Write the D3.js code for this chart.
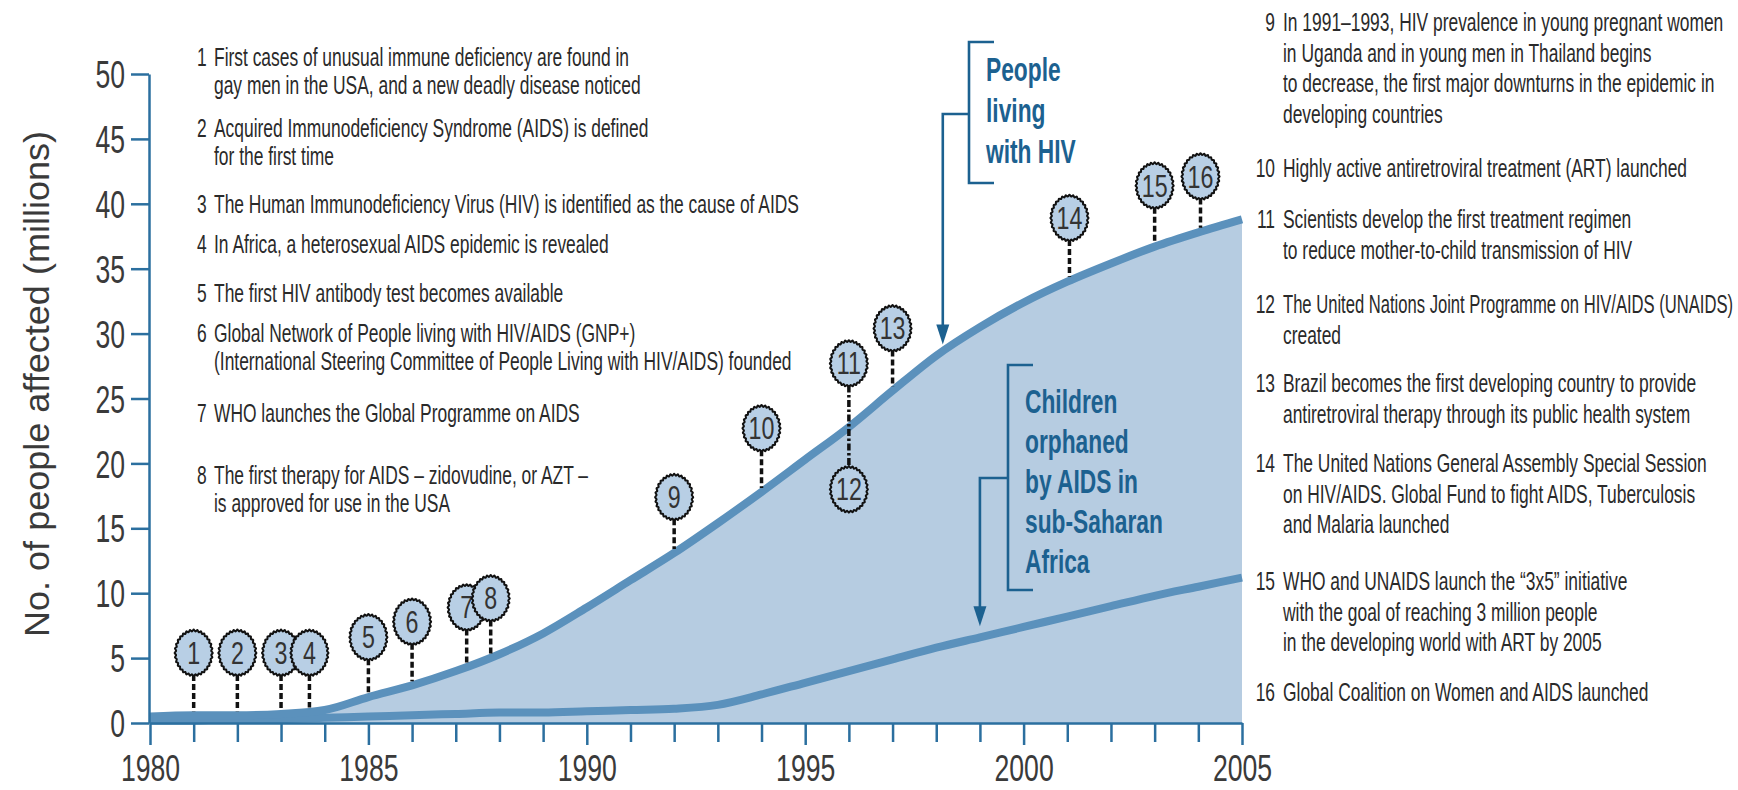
<!DOCTYPE html>
<html lang="en">
<head>
<meta charset="UTF-8">
<title>HIV epidemic timeline</title>
<script src="https://cdn.jsdelivr.net/npm/d3@7"></script>
<style>
    body { margin: 0; background: #ffffff; }
    svg { display: block; font-family: "Liberation Sans", Arial, sans-serif; }
    .axis path, .axis line { stroke: #2b6f9f; stroke-width: 2.5px; }
    .axis text { fill: #3a3a3a; font-family: "Liberation Sans", Arial, sans-serif; }
</style>
</head>
<body>
<div id="chart"></div>
<script>
    var WIDTH = 1738;
    var HEIGHT = 790;

    // data (millions)
    var YEARS = [1980, 1981, 1982, 1983, 1984, 1985, 1986, 1987, 1988, 1989, 1990, 1991, 1992,
                 1993, 1994, 1995, 1996, 1997, 1998, 1999, 2000, 2001, 2002, 2003, 2004, 2005];
    var LIVING_WITH_HIV = [0.5, 0.6, 0.6, 0.7, 1.0, 2.0, 2.9, 4.0, 5.3, 6.9, 8.9, 11.0, 13.1,
                           15.4, 17.8, 20.3, 22.8, 25.6, 28.3, 30.5, 32.4, 34.0, 35.4, 36.7, 37.8, 38.8];
    var ORPHANS_SSA = [0.2, 0.2, 0.3, 0.3, 0.4, 0.5, 0.6, 0.7, 0.8, 0.8, 0.9, 1.0, 1.1,
                       1.4, 2.2, 3.1, 4.0, 4.9, 5.8, 6.6, 7.4, 8.2, 9.0, 9.8, 10.5, 11.2];

    var Y_TICKS = [0, 5, 10, 15, 20, 25, 30, 35, 40, 45, 50];
    var X_LABELS = [1980, 1985, 1990, 1995, 2000, 2005];
    var Y_TITLE = "No. of people affected (millions)";

    // numbered milestones: id, year, badge height (millions)
    var EVENT_IDS = [1, 2, 3, 4, 5, 6, 7, 8, 9, 10, 11, 12, 13, 14, 15, 16];
    var EVENT_YEARS = [1981, 1982, 1983, 1983.65, 1985, 1986, 1987.25, 1987.8, 1992, 1994,
                       1996, 1996, 1997, 2001.05, 2003, 2004.05];
    var EVENT_LEVELS = [5.4, 5.4, 5.4, 5.4, 6.6, 7.8, 8.9, 9.6, 17.4, 22.7, 27.7, 18.0, 30.4,
                        38.9, 41.4, 42.1];

    var LEFT_NOTES = [
        ["First cases of unusual immune deficiency are found in", "gay men in the USA, and a new deadly disease noticed"],
        ["Acquired Immunodeficiency Syndrome (AIDS) is defined", "for the first time"],
        ["The Human Immunodeficiency Virus (HIV) is identified as the cause of AIDS"],
        ["In Africa, a heterosexual AIDS epidemic is revealed"],
        ["The first HIV antibody test becomes available"],
        ["Global Network of People living with HIV/AIDS (GNP+)", "(International Steering Committee of People Living with HIV/AIDS) founded"],
        ["WHO launches the Global Programme on AIDS"],
        ["The first therapy for AIDS \u2013 zidovudine, or AZT \u2013", "is approved for use in the USA"]
    ];
    var RIGHT_NOTES = [
        ["In 1991\u20131993, HIV prevalence in young pregnant women", "in Uganda and in young men in Thailand begins",
         "to decrease, the first major downturns in the epidemic in", "developing countries"],
        ["Highly active antiretroviral treatment (ART) launched"],
        ["Scientists develop the first treatment regimen", "to reduce mother-to-child transmission of HIV"],
        ["The United Nations Joint Programme on HIV/AIDS (UNAIDS)", "created"],
        ["Brazil becomes the first developing country to provide", "antiretroviral therapy through its public health system"],
        ["The United Nations General Assembly Special Session", "on HIV/AIDS. Global Fund to fight AIDS, Tuberculosis",
         "and Malaria launched"],
        ["WHO and UNAIDS launch the \u201c3x5\u201d initiative", "with the goal of reaching 3 million people",
         "in the developing world with ART by 2005"],
        ["Global Coalition on Women and AIDS launched"]
    ];
    var HIV_LABEL = ["People", "living", "with HIV"];
    var ORPHAN_LABEL = ["Children", "orphaned", "by AIDS in", "sub-Saharan", "Africa"];

    // styling / layout
    var AXIS_BLUE = "#2b6f9f";
    var NOTE_BLUE = "#1c6190";
    var FILL_BLUE = "#b6cce1";
    var LINE_BLUE = "#5b91bc";
    var BADGE_FILL = "#b8cfe5";
    var TEXT_COLOR = "#2a2a2a";
    var NOTE_SIZE = 26, NOTE_SX = 0.67;
    var LEFT_TOPS = [66, 137, 213, 253, 302, 342, 422, 484], LEFT_GAP = 28;
    var RIGHT_TOPS = [31, 177, 228, 313, 392, 472, 590, 701], RIGHT_GAP = 30.5;
    var RIGHT_MAX_W = 450;

    var svg = d3.select("#chart").append("svg")
        .attr("width", WIDTH)
        .attr("height", HEIGHT);

    var x = d3.scaleLinear().domain([1980, 2005]).range([150, 1242]);
    var y = d3.scaleLinear().domain([0, 50]).range([723, 74]);

    var hivAt = d3.scaleLinear().domain(YEARS).range(LIVING_WITH_HIV);
    var orphAt = d3.scaleLinear().domain(YEARS).range(ORPHANS_SSA);

    function condText(sel, px, py, str, size, sx, anchor) {
        return sel.append("text")
            .attr("transform", "translate(" + px + "," + py + ") scale(" + sx + ",1)")
            .attr("font-size", size)
            .attr("text-anchor", anchor || "start")
            .text(str);
    }

    // area + lines
    var area = d3.area()
        .x(function(d, i){ return x(YEARS[i]); })
        .y0(y(0))
        .y1(function(d){ return y(d); })
        .curve(d3.curveMonotoneX);
    var line = d3.line()
        .x(function(d, i){ return x(YEARS[i]); })
        .y(function(d){ return y(d); })
        .curve(d3.curveMonotoneX);

    svg.append("path")
        .datum(LIVING_WITH_HIV)
        .attr("d", area)
        .attr("fill", FILL_BLUE);

    [ORPHANS_SSA, LIVING_WITH_HIV].forEach(function(series){
        svg.append("path")
            .datum(series)
            .attr("d", line)
            .attr("fill", "none")
            .attr("stroke", LINE_BLUE)
            .attr("stroke-width", 8);
    });

    // axes
    var yAxis = svg.append("g")
        .attr("class", "axis")
        .attr("transform", "translate(149,0)")
        .call(d3.axisLeft(y).tickValues(Y_TICKS).tickSize(18).tickSizeOuter(0));
    yAxis.selectAll("text")
        .attr("font-size", 38)
        .attr("x", -24 / 0.7)
        .attr("dy", "0.36em")
        .attr("transform", "scale(0.7,1)");

    var xAxis = svg.append("g")
        .attr("class", "axis")
        .attr("transform", "translate(0," + y(0) + ")")
        .call(d3.axisBottom(x).tickValues(YEARS).tickSize(19).tickSizeOuter(0)
            .tickFormat(function(d){ return X_LABELS.indexOf(d) >= 0 ? d : ""; }));
    xAxis.selectAll(".tick")
        .filter(function(d){ return X_LABELS.indexOf(d) >= 0; })
        .select("line").attr("y2", 22);
    xAxis.selectAll("text")
        .attr("font-size", 37)
        .attr("y", 58)
        .attr("dy", 0)
        .attr("transform", "scale(0.72,1)");

    svg.append("text")
        .attr("transform", "translate(49,384) rotate(-90)")
        .attr("text-anchor", "middle")
        .attr("font-size", 35)
        .attr("fill", "#3a3a3a")
        .attr("textLength", 506)
        .attr("lengthAdjust", "spacingAndGlyphs")
        .text(Y_TITLE);

    // milestone badges
    var RX = 18, RY = 22;
    var badgePts = d3.range(0, 64).map(function(i){
        var t = i / 64 * 2 * Math.PI;
        var k = i % 2 === 0 ? 1.06 : 0.98;
        return [Math.cos(t) * RX * k, Math.sin(t) * RY * k];
    });
    var badgePath = d3.line().curve(d3.curveCardinalClosed.tension(0.3))(badgePts);

    var stems = svg.append("g");
    var badges = svg.append("g");
    EVENT_IDS.forEach(function(id, i){
        var bx = x(EVENT_YEARS[i]);
        var by = y(EVENT_LEVELS[i]);
        var curveVal = hivAt(EVENT_YEARS[i]);
        if (id === 11) {
            // 11 and 12 share a year: the stem runs through the curve down to badge 12
            stems.append("line")
                .attr("x1", bx).attr("x2", bx)
                .attr("y1", by + RY).attr("y2", y(EVENT_LEVELS[11]) - RY)
                .attr("stroke", "#111").attr("stroke-width", 3.5)
                .attr("stroke-dasharray", "7,2.5,2.5,2.5");
        } else if (EVENT_LEVELS[i] > curveVal) {
            stems.append("line")
                .attr("x1", bx).attr("x2", bx)
                .attr("y1", by + RY).attr("y2", y(curveVal) - 4)
                .attr("stroke", "#111").attr("stroke-width", 3.5)
                .attr("stroke-dasharray", "6,3");
        }
        var g = badges.append("g").attr("transform", "translate(" + bx + "," + by + ")");
        g.append("path")
            .attr("d", badgePath)
            .attr("fill", BADGE_FILL)
            .attr("stroke", "#111")
            .attr("stroke-width", 2);
        condText(g, 0, 11, id, 31, 0.75, "middle").attr("fill", "#333");
    });

    // notes
    var notes = svg.append("g").attr("fill", TEXT_COLOR);
    LEFT_NOTES.forEach(function(lines, i){
        condText(notes, 197, LEFT_TOPS[i], i + 1, NOTE_SIZE, NOTE_SX);
        lines.forEach(function(s, j){
            condText(notes, 214, LEFT_TOPS[i] + j * LEFT_GAP, s, NOTE_SIZE, NOTE_SX);
        });
    });
    RIGHT_NOTES.forEach(function(lines, i){
        condText(notes, 1275, RIGHT_TOPS[i], i + 9, NOTE_SIZE, NOTE_SX, "end");
        lines.forEach(function(s, j){
            var py = RIGHT_TOPS[i] + j * RIGHT_GAP;
            var t = condText(notes, 1283, py, s, NOTE_SIZE, NOTE_SX);
            var w = t.node().getComputedTextLength() * NOTE_SX;
            if (w > RIGHT_MAX_W) {
                // squeeze the odd long line so it stays inside the page
                t.attr("transform", "translate(1283," + py + ") scale(" + (NOTE_SX * RIGHT_MAX_W / w) + ",1)");
            }
        });
    });

    // series labels with brackets and arrows
    function seriesLabel(lines, year, valueAt, textX, firstBase, top, bottom, mid, gap) {
        var ax = x(year);
        var tipY = y(valueAt(year)) - (valueAt === hivAt ? 7 : 11);
        var bx = textX - 17;
        var g = svg.append("g");
        g.append("path")
            .attr("d", "M" + (bx + 25) + "," + top + "H" + bx + "V" + bottom + "H" + (bx + 25))
            .attr("fill", "none").attr("stroke", NOTE_BLUE).attr("stroke-width", 2.6);
        g.append("path")
            .attr("d", "M" + bx + "," + mid + "H" + ax + "V" + (tipY - 18))
            .attr("fill", "none").attr("stroke", NOTE_BLUE).attr("stroke-width", 2.6);
        g.append("path")
            .attr("d", "M" + (ax - 6.5) + "," + (tipY - 20) + "L" + (ax + 6.5) + "," + (tipY - 20) + "L" + ax + "," + tipY + "Z")
            .attr("fill", NOTE_BLUE);
        lines.forEach(function(s, j){
            condText(g, textX, firstBase + j * gap, s, 33, 0.69)
                .attr("font-weight", "bold")
                .attr("fill", NOTE_BLUE);
        });
    }
    seriesLabel(HIV_LABEL, 1998.15, hivAt, 986, 81, 42, 183, 114, 41);
    seriesLabel(ORPHAN_LABEL, 1999.0, orphAt, 1025, 413, 365, 590, 478, 40);
</script>
</body>
</html>
